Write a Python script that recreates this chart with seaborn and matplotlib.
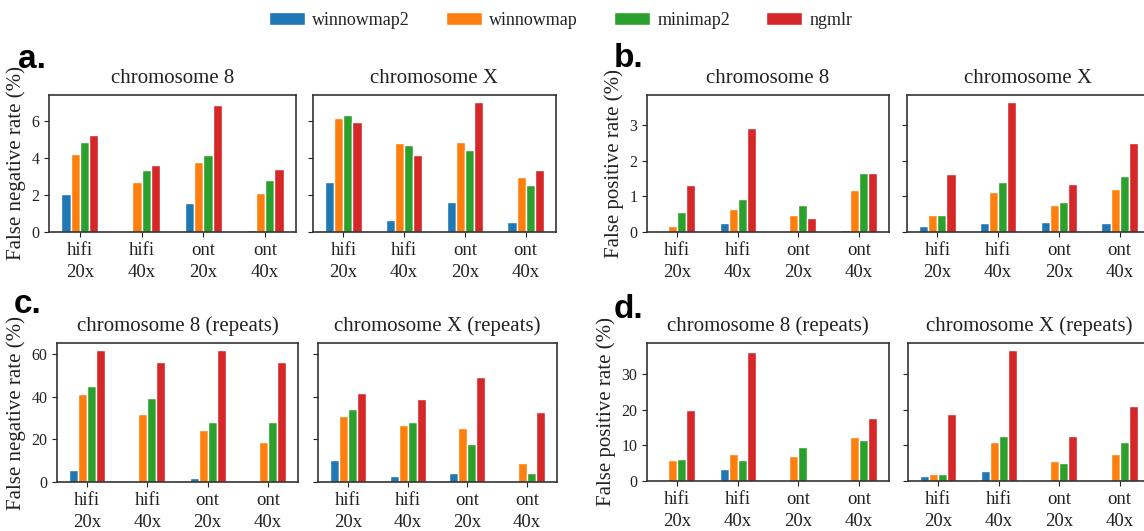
import pandas as pd
import matplotlib.pyplot as plt
import seaborn as sns
from matplotlib.patches import Patch

# 数据
tools = ['winnowmap2', 'winnowmap', 'minimap2', 'ngmlr']
datasets = ['hifi\n20x', 'hifi\n40x', 'ont\n20x', 'ont\n40x']
colors = ['#1f77b4', '#ff7f0e', '#2ca02c', '#d62728']

# a. false negative rate (%) — 每行一个工具, 每列一个数据集
fn_chr8 = [[2.07, 0.0, 1.55, 0.09],
           [4.25, 2.72, 3.82, 2.09],
           [4.90, 3.35, 4.18, 2.81],
           [5.26, 3.64, 6.90, 3.44]]
fn_chrX = [[2.72, 0.63, 1.62, 0.54],
           [6.16, 4.81, 4.90, 3.00],
           [6.36, 4.72, 4.43, 2.54],
           [5.98, 4.16, 7.08, 3.35]]

# b. false positive rate (%)
fp_chr8 = [[0.0, 0.26, 0.0, 0.07],
           [0.18, 0.64, 0.47, 1.17],
           [0.56, 0.92, 0.75, 1.66],
           [1.32, 2.93, 0.38, 1.66]]
fp_chrX = [[0.18, 0.26, 0.27, 0.26],
           [0.49, 1.12, 0.76, 1.20],
           [0.49, 1.40, 0.84, 1.56],
           [1.62, 3.66, 1.35, 2.49]]

# c. false negative rate (%), repeats
fn_rep_chr8 = [[5.5, 0.0, 1.7, 0.0],
               [41.4, 32.0, 24.5, 18.8],
               [45.2, 39.4, 28.1, 28.1],
               [62.2, 56.5, 62.2, 56.5]]
fn_rep_chrX = [[10.4, 2.8, 4.4, 0.0],
               [31.2, 26.8, 25.3, 8.8],
               [34.4, 28.3, 17.9, 4.4],
               [41.6, 38.8, 49.1, 32.8]]

# d. false positive rate (%), repeats
fp_rep_chr8 = [[0.0, 3.5, 0.0, 0.0],
               [5.9, 7.6, 6.9, 12.2],
               [6.3, 5.8, 9.5, 11.5],
               [19.9, 36.0, 0.0, 17.7]]
fp_rep_chrX = [[1.5, 2.9, 0.0, 0.0],
               [2.1, 10.8, 5.7, 7.5],
               [2.1, 12.6, 5.0, 11.0],
               [18.7, 36.8, 12.7, 21.0]]


def to_long(values):
    rows = []
    for tool, vals in zip(tools, values):
        for ds, v in zip(datasets, vals):
            rows.append({'dataset': ds, 'tool': tool, 'value': v})
    return pd.DataFrame(rows)


sns.set_style('ticks')
plt.rcParams['font.family'] = ['Liberation Serif', 'DejaVu Serif']
plt.rcParams['axes.edgecolor'] = '#333333'
plt.rcParams['axes.linewidth'] = 1.2
for k in ['text.color', 'axes.labelcolor', 'xtick.color', 'ytick.color']:
    plt.rcParams[k] = '#222222'

fig = plt.figure(figsize=(11.44, 5.31), dpi=100)

W, H = 1144.0, 531.0


def make_ax(x0, x1, y0, y1, sharey=None):
    return fig.add_axes([x0 / W, 1 - y1 / H, (x1 - x0) / W, (y1 - y0) / H], sharey=sharey)


panels = [
    # (数据1, 数据2, 标题1, 标题2, ylabel, 左图x, 右图x, y范围)
    (fn_chr8, fn_chrX, 'chromosome 8', 'chromosome X', 'False negative rate (%)',
     (49, 296), (313, 556), (95, 232)),
    (fp_chr8, fp_chrX, 'chromosome 8', 'chromosome X', 'False positive rate (%)',
     (647, 889), (907, 1150), (95, 232)),
    (fn_rep_chr8, fn_rep_chrX, 'chromosome 8 (repeats)', 'chromosome X (repeats)',
     'False negative rate (%)', (57, 298), (318, 557), (343, 482)),
    (fp_rep_chr8, fp_rep_chrX, 'chromosome 8 (repeats)', 'chromosome X (repeats)',
     'False positive rate (%)', (647, 889), (908, 1150), (343, 481)),
]

for d1, d2, t1, t2, ylab, xl, xr, yy in panels:
    ax1 = make_ax(xl[0], xl[1], yy[0], yy[1])
    ax2 = make_ax(xr[0], xr[1], yy[0], yy[1], sharey=ax1)
    for ax, data, title in [(ax1, d1, t1), (ax2, d2, t2)]:
        sns.barplot(data=to_long(data), x='dataset', y='value', hue='tool',
                    palette=colors, width=0.6, saturation=1, legend=False, ax=ax)
        ax.set_title(title, fontsize=15, pad=9)
        ax.set_xlabel('')
        ax.set_ylabel('')
        ax.tick_params(axis='x', labelsize=13.5, length=3.5)
        ax.tick_params(axis='y', labelsize=11.5, length=3.5)
        ax.set_xlim(-0.5, 3.5)
        for lbl in ax.get_xticklabels():
            lbl.set_linespacing(1.4)
    ax1.set_ylabel(ylab, fontsize=15)
    ax2.tick_params(axis='y', labelleft=False)

# 子图标记
for txt, x, y in [('a.', 18, 68), ('b.', 614, 67), ('c.', 14, 313), ('d.', 614, 318)]:
    fig.text(x / W, 1 - y / H, txt, fontsize=24, fontweight='bold', color='black',
             family=['Liberation Sans', 'DejaVu Sans'], va='baseline')

# 图例
handles = [Patch(facecolor=c, label=t) for c, t in zip(colors, tools)]
fig.legend(handles=handles, loc='center', bbox_to_anchor=(0.49, 0.962), ncol=4,
           frameon=False, fontsize=13, handlelength=2.0, handleheight=0.7,
           handletextpad=0.4, columnspacing=2.0)

plt.savefig('out.png', dpi=100)
